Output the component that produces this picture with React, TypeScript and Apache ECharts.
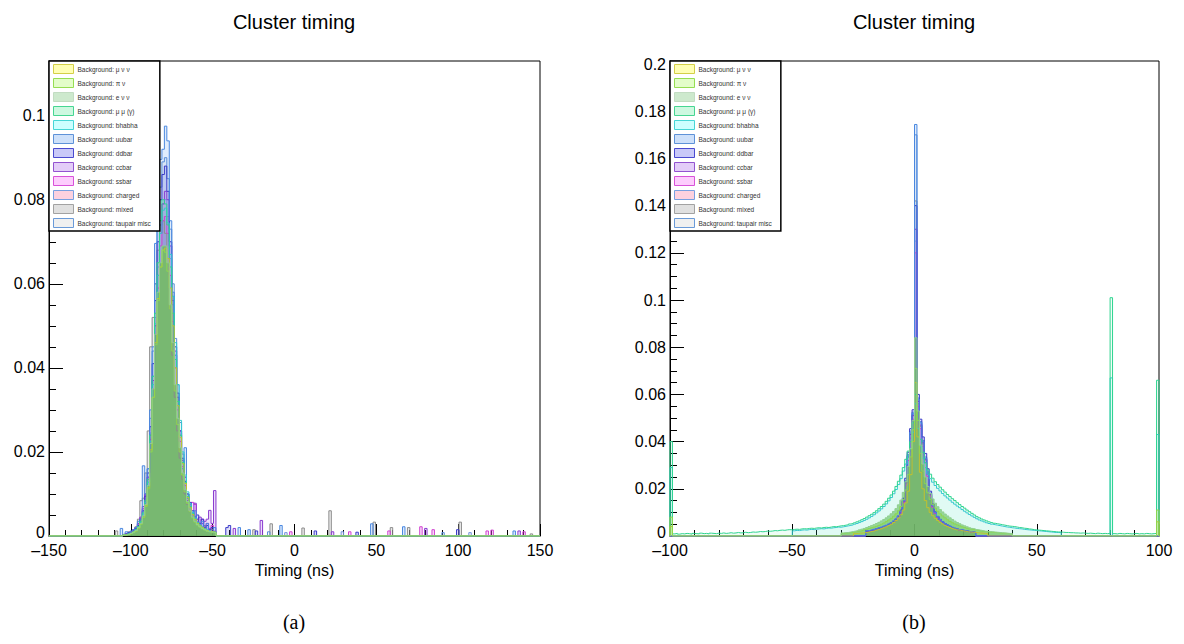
import React, { useEffect, useRef } from "react";
import * as echarts from "echarts";

// ---------------- names ----------------
const SERIES_NAMES = [
  "Background: μ ν ν",
  "Background: π ν",
  "Background: e ν ν",
  "Background: μ μ (γ)",
  "Background: bhabha",
  "Background: uubar",
  "Background: ddbar",
  "Background: ccbar",
  "Background: ssbar",
  "Background: charged",
  "Background: mixed",
  "Background: taupair misc",
];

const X_TICKS_LEFT = [-150, 150, 50];
const X_TICKS_RIGHT = [-100, 100, 50];

// ---------------- left panel (bins of 1.5 ns) ----------------
const LEFT_BIN = 1.5;
const LEFT_CORE_START = -105;
const leftMuNuNu = [0.0002,0.0003,0.0004,0.0006,0.0009,0.0012,0.0019,0.0029,0.0045,0.0072,0.0115,0.0205,0.0330,0.0460,0.0565,0.0640,0.0680,0.0685,0.0660,0.0590,0.0500,0.0400,0.0310,0.0235,0.0172,0.0125,0.0092,0.0068,0.0051,0.0039,0.0030,0.0024,0.0020,0.0016,0.0013,0.0011,0.0010,0.0009];
const leftPiNu = [0.0002,0.0002,0.0004,0.0005,0.0008,0.0012,0.0018,0.0028,0.0044,0.0070,0.0112,0.0200,0.0330,0.0455,0.0560,0.0640,0.0680,0.0675,0.0630,0.0540,0.0440,0.0345,0.0265,0.0200,0.0145,0.0105,0.0078,0.0058,0.0043,0.0033,0.0026,0.0021,0.0017,0.0014,0.0011,0.0010,0.0008,0.0007];
const leftENuNu = [0.0002,0.0003,0.0004,0.0006,0.0009,0.0013,0.0020,0.0030,0.0048,0.0075,0.0120,0.0220,0.0350,0.0480,0.0580,0.0650,0.0690,0.0690,0.0650,0.0550,0.0460,0.0360,0.0280,0.0210,0.0150,0.0110,0.0082,0.0060,0.0045,0.0035,0.0027,0.0022,0.0018,0.0015,0.0012,0.0010,0.0009,0.0008];
const leftMuMuGamma = [0.0002,0.0003,0.0005,0.0007,0.0010,0.0015,0.0023,0.0035,0.0055,0.0085,0.0135,0.0240,0.0380,0.0530,0.0650,0.0750,0.0800,0.0790,0.0740,0.0640,0.0530,0.0420,0.0320,0.0240,0.0175,0.0128,0.0094,0.0070,0.0053,0.0040,0.0031,0.0025,0.0020,0.0016,0.0013,0.0011,0.0010,0.0009];
const leftBhabha = [0.0002,0.0003,0.0004,0.0006,0.0009,0.0014,0.0021,0.0033,0.0052,0.0080,0.0128,0.0225,0.0360,0.0505,0.0620,0.0720,0.0775,0.0780,0.0745,0.0670,0.0570,0.0460,0.0360,0.0275,0.0200,0.0145,0.0105,0.0077,0.0057,0.0043,0.0033,0.0026,0.0021,0.0017,0.0014,0.0012,0.0010,0.0009];
const leftUubar = [0.0004,0.0010,0.0006,0.0012,0.0015,0.0020,0.0035,0.0040,0.0167,0.0100,0.0160,0.0300,0.0450,0.0696,0.0826,0.0896,0.0920,0.0975,0.0940,0.0750,0.0580,0.0430,0.0320,0.0240,0.0160,0.0210,0.0090,0.0070,0.0045,0.0060,0.0030,0.0025,0.0035,0.0015,0.0030,0.0012,0.0010,0.0020];
const leftDdbar = [0.0003,0.0005,0.0008,0.0006,0.0012,0.0018,0.0025,0.0040,0.0060,0.0095,0.0150,0.0260,0.0410,0.0560,0.0700,0.0800,0.0860,0.0880,0.0820,0.0700,0.0570,0.0450,0.0340,0.0250,0.0185,0.0130,0.0100,0.0080,0.0060,0.0045,0.0050,0.0030,0.0040,0.0020,0.0025,0.0015,0.0020,0.0010];
const leftCcbar = [0.0003,0.0004,0.0007,0.0010,0.0015,0.0020,0.0030,0.0045,0.0070,0.0100,0.0140,0.0240,0.0370,0.0500,0.0620,0.0720,0.0790,0.0820,0.0800,0.0690,0.0560,0.0440,0.0330,0.0250,0.0180,0.0140,0.0085,0.0060,0.0050,0.0078,0.0040,0.0045,0.0030,0.0035,0.0040,0.0061,0.0030,0.0108];
const leftSsbar = [0.0003,0.0006,0.0004,0.0009,0.0014,0.0018,0.0028,0.0042,0.0065,0.0095,0.0135,0.0230,0.0350,0.0480,0.0590,0.0690,0.0750,0.0760,0.0720,0.0620,0.0510,0.0400,0.0300,0.0225,0.0165,0.0120,0.0090,0.0068,0.0080,0.0075,0.0035,0.0028,0.0040,0.0022,0.0030,0.0018,0.0025,0.0012];
const leftCharged = [0.0002,0.0004,0.0005,0.0008,0.0012,0.0016,0.0025,0.0038,0.0058,0.0090,0.0140,0.0245,0.0380,0.0520,0.0640,0.0740,0.0790,0.0800,0.0760,0.0660,0.0550,0.0430,0.0330,0.0245,0.0180,0.0130,0.0095,0.0072,0.0055,0.0042,0.0033,0.0027,0.0022,0.0018,0.0015,0.0012,0.0010,0.0009];
const leftMixed = [0.0003,0.0005,0.0010,0.0008,0.0015,0.0022,0.0040,0.0084,0.0090,0.0150,0.0250,0.0450,0.0520,0.0600,0.0680,0.0740,0.0750,0.0720,0.0650,0.0540,0.0430,0.0330,0.0250,0.0185,0.0135,0.0100,0.0075,0.0058,0.0045,0.0035,0.0040,0.0022,0.0018,0.0025,0.0013,0.0011,0.0015,0.0008];
const leftTaupair = [0.0002,0.0004,0.0006,0.0009,0.0013,0.0019,0.0028,0.0042,0.0065,0.0100,0.0160,0.0280,0.0440,0.0600,0.0730,0.0830,0.0890,0.0900,0.0850,0.0730,0.0600,0.0470,0.0360,0.0270,0.0195,0.0140,0.0100,0.0075,0.0056,0.0042,0.0033,0.0026,0.0021,0.0017,0.0014,0.0011,0.0010,0.0008];

// isolated tail bins: [left bin edge (ns), value]
const leftTailUubar = [[-106.5, 0.0018], [-34.5, 0.002], [-28.5, 0.0015], [-9, 0.0025], [46.5, 0.0029], [66, 0.0022], [133.5, 0.0012]];
const leftTailDdbar = [[-42, 0.002], [-40.5, 0.0025], [-24, 0.0012], [12, 0.0012], [37.5, 0.0009], [99, 0.0015]];
const leftTailCcbar = [[-37.5, 0.0018], [-21, 0.0037], [22.5, 0.001], [79.5, 0.0018], [136.5, 0.0012]];
const leftTailSsbar = [[-3, 0.001], [33, 0.001], [57, 0.0012], [76.5, 0.0022], [84, 0.0015], [117, 0.0012], [120, 0.0014], [139.5, 0.001]];
const leftTailMixed = [[-109.5, 0.0012], [-25.5, 0.0015], [-15, 0.0029], [4.5, 0.0019], [21, 0.006], [48, 0.0033], [58.5, 0.002], [69, 0.002], [100.5, 0.0033], [144, 0.0005]];
const leftTailTaupair = [[-16.5, 0.001], [90, 0.0008]];
const leftTailCharged = [[-6, 0.0008], [28.5, 0.001], [106.5, 0.0008]];

// ---------------- right panel (bins of 1 ns) ----------------
const RIGHT_BIN = 1;
const rightMuMuGammaStart = -100;
const rightMuMuGamma = [
  0.0400,0.0009,0.0011,0.0008,0.0010,0.0009,0.0011,0.0010,0.0008,0.0011,
  0.0010,0.0009,0.0012,0.0010,0.0011,0.0009,0.0012,0.0011,0.0010,0.0012,
  0.0011,0.0013,0.0011,0.0012,0.0014,0.0012,0.0013,0.0015,0.0013,0.0014,
  0.0016,0.0014,0.0015,0.0017,0.0016,0.0017,0.0019,0.0018,0.0019,0.0021,
  0.0020,0.0021,0.0023,0.0022,0.0024,0.0025,0.0024,0.0026,0.0027,0.0026,
  0.0028,0.0029,0.0028,0.0030,0.0031,0.0030,0.0032,0.0033,0.0032,0.0034,
  0.0035,0.0034,0.0036,0.0037,0.0036,0.0038,0.0040,0.0039,0.0041,0.0043,
  0.0044,0.0046,0.0048,0.0051,0.0053,0.0056,0.0060,0.0064,0.0069,0.0074,
  0.0080,0.0086,0.0092,0.0099,0.0107,0.0116,0.0125,0.0135,0.0147,0.0160,
  0.0174,0.0190,0.0210,0.0232,0.0258,0.0290,0.0325,0.0360,0.0400,0.0480,
  0.0600,0.0490,0.0410,0.0355,0.0310,0.0280,0.0262,0.0245,0.0230,0.0218,
  0.0207,0.0196,0.0186,0.0176,0.0167,0.0158,0.0150,0.0141,0.0133,0.0125,
  0.0118,0.0110,0.0103,0.0096,0.0089,0.0082,0.0077,0.0072,0.0068,0.0064,
  0.0060,0.0057,0.0054,0.0052,0.0050,0.0048,0.0046,0.0044,0.0042,0.0041,
  0.0040,0.0038,0.0036,0.0035,0.0033,0.0032,0.0030,0.0029,0.0027,0.0026,
  0.0025,0.0024,0.0023,0.0022,0.0021,0.0020,0.0019,0.0018,0.0017,0.0017,
  0.0016,0.0015,0.0015,0.0014,0.0014,0.0013,0.0013,0.0012,0.0013,0.0012,
  0.0011,0.0012,0.0011,0.0010,0.0012,0.0011,0.0010,0.0011,0.0010,0.0011,
  0.1010,0.0010,0.0009,0.0011,0.0010,0.0009,0.0011,0.0010,0.0009,0.0010,
  0.0011,0.0009,0.0010,0.0009,0.0011,0.0010,0.0009,0.0010,0.0011,0.0660,
];
const rightBhabhaStart = -50;
const rightBhabha = [
  0.0022,0.0024,0.0023,0.0025,0.0026,0.0025,0.0027,0.0028,0.0027,0.0029,
  0.0030,0.0031,0.0030,0.0032,0.0034,0.0033,0.0035,0.0036,0.0038,0.0037,
  0.0039,0.0041,0.0043,0.0045,0.0047,0.0050,0.0053,0.0057,0.0061,0.0066,
  0.0071,0.0077,0.0083,0.0090,0.0098,0.0106,0.0115,0.0125,0.0136,0.0149,
  0.0163,0.0179,0.0197,0.0218,0.0243,0.0275,0.0305,0.0335,0.0370,0.0440,
  0.0560,0.0455,0.0380,0.0330,0.0290,0.0262,0.0243,0.0228,0.0214,0.0202,
  0.0191,0.0180,0.0170,0.0161,0.0152,0.0143,0.0135,0.0127,0.0120,0.0112,
  0.0105,0.0098,0.0091,0.0085,0.0079,0.0073,0.0068,0.0064,0.0060,0.0056,
  0.0053,0.0050,0.0048,0.0046,0.0044,0.0042,0.0040,0.0038,0.0037,0.0035,
  0.0034,0.0032,0.0031,0.0030,0.0028,0.0027,0.0026,0.0025,0.0024,0.0023,
  0.0022,0.0021,0.0020,0.0019,0.0018,0.0017,0.0016,0.0015,0.0015,0.0014,
];
const rightBhabhaExtra = [[-100, 0.029], [80, 0.067], [99, 0.043]];

const rightGreenStart = -30;
const rightENuNu = [
  0.0013,0.0014,0.0015,0.0017,0.0019,0.0021,0.0023,0.0026,0.0029,0.0032,
  0.0036,0.0040,0.0044,0.0048,0.0053,0.0058,0.0064,0.0070,0.0077,0.0085,
  0.0094,0.0104,0.0116,0.0132,0.0152,0.0185,0.0230,0.0295,0.0370,0.0490,
  0.0840,0.0530,0.0385,0.0305,0.0250,0.0210,0.0180,0.0157,0.0139,0.0124,
  0.0112,0.0102,0.0093,0.0085,0.0077,0.0070,0.0063,0.0057,0.0052,0.0047,
  0.0043,0.0039,0.0035,0.0032,0.0030,0.0027,0.0025,0.0023,0.0021,0.0020,
  0.0019,0.0018,0.0017,0.0016,0.0015,0.0014,0.0013,0.0012,0.0011,0.0010,
];
const rightPiNu = [
  0.0011,0.0012,0.0013,0.0014,0.0015,0.0017,0.0019,0.0021,0.0023,0.0026,
  0.0029,0.0032,0.0035,0.0038,0.0041,0.0045,0.0050,0.0055,0.0061,0.0068,
  0.0075,0.0084,0.0094,0.0107,0.0125,0.0155,0.0195,0.0260,0.0335,0.0450,
  0.0710,0.0490,0.0350,0.0275,0.0222,0.0183,0.0155,0.0134,0.0118,0.0105,
  0.0094,0.0085,0.0077,0.0069,0.0062,0.0056,0.0051,0.0047,0.0043,0.0039,
  0.0036,0.0033,0.0030,0.0028,0.0026,0.0024,0.0022,0.0020,0.0019,0.0018,
  0.0017,0.0016,0.0015,0.0014,0.0013,0.0012,0.0012,0.0011,0.0010,0.0010,
];
const rightPiNuExtra = [[-100, 0.008], [99, 0.011]];
const rightMuNuNuStart = -25;
const rightMuNuNu = [
  0.0010,0.0011,0.0012,0.0013,0.0014,0.0016,0.0018,0.0020,0.0022,0.0025,
  0.0028,0.0031,0.0035,0.0039,0.0044,0.0050,0.0057,0.0066,0.0076,0.0090,
  0.0110,0.0140,0.0190,0.0260,0.0400,
  0.0650,0.0420,0.0270,0.0200,0.0150,0.0120,0.0100,0.0086,0.0075,0.0066,
  0.0058,0.0051,0.0045,0.0040,0.0036,0.0032,0.0029,0.0026,0.0024,0.0022,
  0.0020,0.0018,0.0017,0.0016,0.0015,0.0014,0.0013,0.0012,0.0011,0.0010,
];
const rightMuNuNuExtra = [[-100, 0.004], [99, 0.006]];

const rightQuarkStart = -20;
const rightUubar = [0.0022,0.0024,0.0026,0.0028,0.0031,0.0034,0.0037,0.0041,0.0045,0.0050,0.0056,0.0063,0.0072,0.0085,0.0105,0.0150,0.0230,0.0340,0.0440,0.0520,0.1744,0.0580,0.0480,0.0400,0.0330,0.0270,0.0180,0.0130,0.0100,0.0082,0.0070,0.0060,0.0052,0.0046,0.0041,0.0037,0.0033,0.0030,0.0027,0.0025,0.0023,0.0021,0.0019,0.0018,0.0016];
const rightDdbar = [0.0021,0.0023,0.0025,0.0027,0.0030,0.0033,0.0036,0.0040,0.0044,0.0049,0.0055,0.0062,0.0071,0.0084,0.0110,0.0160,0.0245,0.0355,0.0455,0.0535,0.1400,0.0600,0.0495,0.0420,0.0350,0.0285,0.0190,0.0135,0.0102,0.0083,0.0070,0.0060,0.0052,0.0046,0.0041,0.0036,0.0032,0.0029,0.0026,0.0024,0.0022,0.0020,0.0018,0.0017,0.0015];
const rightCcbar = [0.0020,0.0022,0.0024,0.0026,0.0029,0.0032,0.0035,0.0039,0.0043,0.0048,0.0054,0.0061,0.0070,0.0082,0.0102,0.0145,0.0225,0.0335,0.0430,0.0510,0.1300,0.0570,0.0470,0.0395,0.0325,0.0262,0.0175,0.0127,0.0098,0.0080,0.0068,0.0058,0.0051,0.0045,0.0040,0.0036,0.0032,0.0029,0.0026,0.0024,0.0022,0.0020,0.0018,0.0017,0.0015];
const rightSsbar = [0.0019,0.0021,0.0023,0.0025,0.0028,0.0031,0.0034,0.0038,0.0042,0.0047,0.0053,0.0060,0.0068,0.0080,0.0098,0.0140,0.0215,0.0320,0.0415,0.0495,0.1200,0.0550,0.0455,0.0380,0.0312,0.0252,0.0168,0.0122,0.0095,0.0078,0.0066,0.0057,0.0050,0.0044,0.0039,0.0035,0.0031,0.0028,0.0025,0.0023,0.0021,0.0019,0.0017,0.0016,0.0015];
const rightCharged = [0.0020,0.0022,0.0024,0.0027,0.0030,0.0032,0.0036,0.0040,0.0044,0.0049,0.0055,0.0062,0.0070,0.0083,0.0103,0.0148,0.0228,0.0338,0.0435,0.0515,0.1250,0.0575,0.0475,0.0398,0.0328,0.0265,0.0178,0.0128,0.0099,0.0081,0.0069,0.0059,0.0051,0.0045,0.0040,0.0036,0.0032,0.0029,0.0026,0.0024,0.0022,0.0020,0.0018,0.0017,0.0015];
const rightMixed = [0.0020,0.0022,0.0024,0.0026,0.0029,0.0032,0.0035,0.0039,0.0043,0.0048,0.0054,0.0061,0.0070,0.0082,0.0102,0.0146,0.0226,0.0336,0.0432,0.0512,0.1420,0.0560,0.0465,0.0390,0.0322,0.0260,0.0174,0.0126,0.0097,0.0079,0.0067,0.0058,0.0050,0.0044,0.0039,0.0035,0.0031,0.0028,0.0025,0.0023,0.0021,0.0019,0.0018,0.0016,0.0015];
const rightTaupair = [0.0022,0.0024,0.0026,0.0029,0.0031,0.0034,0.0038,0.0042,0.0046,0.0051,0.0057,0.0064,0.0073,0.0086,0.0107,0.0153,0.0234,0.0345,0.0445,0.0525,0.1700,0.0585,0.0485,0.0405,0.0335,0.0272,0.0182,0.0131,0.0101,0.0083,0.0071,0.0061,0.0053,0.0047,0.0042,0.0037,0.0033,0.0030,0.0027,0.0025,0.0023,0.0021,0.0019,0.0018,0.0016];

// ---------------- styles ----------------
// [line colour, fill colour in plot, legend swatch fill, legend swatch border]
const STYLES: Record<string, [string, string, string, string]> = {
  "Background: μ ν ν": ["#c2c22e", "rgba(250,250,90,0.30)", "#ffffb4", "#d4cf48"],
  "Background: π ν": ["#8ed64e", "rgba(140,225,60,0.32)", "#e3fdc9", "#96de52"],
  "Background: e ν ν": ["#8fcf8f", "rgba(80,180,70,0.75)", "#cde9cd", "#c2dcc2"],
  "Background: μ μ (γ)": ["#2fd590", "rgba(60,220,150,0.12)", "#cdf8e0", "#46d692"],
  "Background: bhabha": ["#34c9cf", "rgba(60,230,230,0.12)", "#ccffff", "#46d6d6"],
  "Background: uubar": ["#4a88e0", "rgba(80,150,240,0.25)", "#cde0fa", "#5e92d8"],
  "Background: ddbar": ["#3a3ac8", "rgba(60,60,220,0.25)", "#c9c9f8", "#4a4ad0"],
  "Background: ccbar": ["#8a3ad0", "rgba(150,60,220,0.25)", "#e3cdf8", "#9353d0"],
  "Background: ssbar": ["#d040d0", "rgba(240,80,240,0.25)", "#fdcdfd", "#d952d9"],
  "Background: charged": ["#6f95e0", "rgba(250,130,170,0.25)", "#fdd1df", "#78a0e0"],
  "Background: mixed": ["#8c8c8c", "rgba(150,150,150,0.25)", "#e0e0e0", "#a2a2a2"],
  "Background: taupair misc": ["#5a8ed8", "rgba(210,210,210,0.25)", "#f0f0f0", "#6a9ad8"],
};

// draw order, bottom first
const DRAW_ORDER = [10, 11, 9, 8, 7, 6, 5, 4, 3, 0, 1, 2];

type Bin = [number, number];

function coreBins(start: number, width: number, values: number[]): Bin[] {
  return values.map((v, i) => [start + i * width, v] as Bin);
}

function stepPoints(bins: Bin[], width: number, xMin: number, xMax: number): number[][] {
  const map = new Map<number, number>();
  bins.forEach(([x, v]) => map.set(Math.round(x * 1000) / 1000, v));
  const sorted = Array.from(map.entries()).sort((a, b) => a[0] - b[0]);
  const pts: number[][] = [[xMin, 0]];
  let prevEnd: number | null = null;
  for (const [x0, v] of sorted) {
    if (prevEnd === null || Math.abs(x0 - prevEnd) > 1e-6) {
      if (prevEnd !== null) pts.push([prevEnd, 0]);
      pts.push([x0, 0]);
    }
    pts.push([x0, v]);
    prevEnd = x0 + width;
  }
  if (prevEnd !== null) pts.push([prevEnd, 0]);
  pts.push([xMax, 0]);
  return pts;
}

const LEFT_BINS: Bin[][] = [
  coreBins(LEFT_CORE_START, LEFT_BIN, leftMuNuNu),
  coreBins(LEFT_CORE_START, LEFT_BIN, leftPiNu),
  coreBins(LEFT_CORE_START, LEFT_BIN, leftENuNu),
  coreBins(LEFT_CORE_START, LEFT_BIN, leftMuMuGamma),
  coreBins(LEFT_CORE_START, LEFT_BIN, leftBhabha),
  [...coreBins(LEFT_CORE_START, LEFT_BIN, leftUubar), ...(leftTailUubar as Bin[])],
  [...coreBins(LEFT_CORE_START, LEFT_BIN, leftDdbar), ...(leftTailDdbar as Bin[])],
  [...coreBins(LEFT_CORE_START, LEFT_BIN, leftCcbar), ...(leftTailCcbar as Bin[])],
  [...coreBins(LEFT_CORE_START, LEFT_BIN, leftSsbar), ...(leftTailSsbar as Bin[])],
  [...coreBins(LEFT_CORE_START, LEFT_BIN, leftCharged), ...(leftTailCharged as Bin[])],
  [...coreBins(LEFT_CORE_START, LEFT_BIN, leftMixed), ...(leftTailMixed as Bin[])],
  [...coreBins(LEFT_CORE_START, LEFT_BIN, leftTaupair), ...(leftTailTaupair as Bin[])],
];

const RIGHT_BINS: Bin[][] = [
  [...coreBins(rightMuNuNuStart, RIGHT_BIN, rightMuNuNu), ...(rightMuNuNuExtra as Bin[])],
  [...coreBins(rightGreenStart, RIGHT_BIN, rightPiNu), ...(rightPiNuExtra as Bin[])],
  coreBins(rightGreenStart, RIGHT_BIN, rightENuNu),
  coreBins(rightMuMuGammaStart, RIGHT_BIN, rightMuMuGamma),
  [...coreBins(rightBhabhaStart, RIGHT_BIN, rightBhabha), ...(rightBhabhaExtra as Bin[])],
  coreBins(rightQuarkStart, RIGHT_BIN, rightUubar),
  coreBins(rightQuarkStart, RIGHT_BIN, rightDdbar),
  coreBins(rightQuarkStart, RIGHT_BIN, rightCcbar),
  coreBins(rightQuarkStart, RIGHT_BIN, rightSsbar),
  coreBins(rightQuarkStart, RIGHT_BIN, rightCharged),
  coreBins(rightQuarkStart, RIGHT_BIN, rightMixed),
  coreBins(rightQuarkStart, RIGHT_BIN, rightTaupair),
];

const FONT = "Liberation Sans, Arial, Helvetica, sans-serif";

function xLabel(v: number) {
  return v < 0 ? "\u2013" + Math.abs(v) : String(v);
}

function yLabel(v: number) {
  const r = Math.round(v * 1000) / 1000;
  return r === 0 ? "{z|0}" : String(r);
}

function buildSeries(binsList: Bin[][], width: number, xMin: number, xMax: number, axisIndex: number) {
  return DRAW_ORDER.map((i) => {
    const name = SERIES_NAMES[i];
    const st = STYLES[name];
    return {
      type: "line",
      name,
      xAxisIndex: axisIndex,
      yAxisIndex: axisIndex,
      data: stepPoints(binsList[i], width, xMin, xMax),
      step: "end",
      symbol: "none",
      showSymbol: false,
      silent: true,
      clip: true,
      lineStyle: { color: st[0], width: 1 },
      itemStyle: { color: st[0] },
      areaStyle: { color: st[1], origin: "start" },
    };
  });
}

function legendFor(left: number) {
  return {
    orient: "vertical",
    left,
    top: 61,
    icon: "rect",
    itemWidth: 20,
    itemHeight: 9,
    itemGap: 4,
    padding: [3, 9, 3, 4],
    backgroundColor: "#ffffff",
    borderColor: "#000000",
    borderWidth: 1.5,
    selectedMode: false,
    textStyle: { fontSize: 6.5, color: "#333333", fontFamily: FONT, padding: [0, 0, 0, -1] },
    data: SERIES_NAMES.map((n) => ({
      name: n,
      itemStyle: { color: STYLES[n][2], borderColor: STYLES[n][3], borderWidth: 1 },
    })),
  };
}

function xAxisFor(gridIndex: number, ticks: number[]) {
  return {
    type: "value",
    gridIndex,
    min: ticks[0],
    max: ticks[1],
    interval: ticks[2],
    name: "Timing (ns)",
    nameLocation: "middle",
    nameGap: 23,
    nameTextStyle: { fontSize: 16, color: "#000", fontFamily: FONT },
    axisLine: { show: true, onZero: false, lineStyle: { color: "#000", width: 1 } },
    axisTick: { show: true, inside: true, length: 12, lineStyle: { color: "#000", width: 1 } },
    minorTick: { show: true, splitNumber: 5, length: 6, lineStyle: { color: "#000", width: 1 } },
    axisLabel: { fontSize: 16, color: "#000", fontFamily: FONT, margin: 7, lineHeight: 14, formatter: xLabel },
    splitLine: { show: false },
  };
}

function yAxisFor(gridIndex: number, max: number) {
  return {
    type: "value",
    gridIndex,
    min: 0,
    max,
    interval: 0.02,
    axisLine: { show: true, onZero: false, lineStyle: { color: "#000", width: 1 } },
    axisTick: { show: true, inside: true, length: 14, lineStyle: { color: "#000", width: 1 } },
    minorTick: { show: true, splitNumber: 4, length: 7, lineStyle: { color: "#000", width: 1 } },
    axisLabel: {
      fontSize: 16,
      color: "#000",
      fontFamily: FONT,
      margin: 4,
      lineHeight: 11,
      showMaxLabel: false,
      formatter: yLabel,
      rich: { z: { fontSize: 16, fontFamily: FONT, color: "#000", lineHeight: 11, padding: [0, 0, 8, 0] } },
    },
    splitLine: { show: false },
  };
}

const option = {
  animation: false,
  backgroundColor: "#ffffff",
  grid: [
    { left: 49, top: 61, width: 491, height: 475, show: true, borderColor: "#000", borderWidth: 1, backgroundColor: "transparent" },
    { left: 670, top: 61, width: 489, height: 475, show: true, borderColor: "#000", borderWidth: 1, backgroundColor: "transparent" },
  ],
  xAxis: [xAxisFor(0, X_TICKS_LEFT), xAxisFor(1, X_TICKS_RIGHT)],
  yAxis: [yAxisFor(0, 0.113), yAxisFor(1, 0.2013)],
  legend: [legendFor(49), legendFor(670)],
  graphic: [
    { type: "text", x: 294, y: 22, style: { text: "Cluster timing", fontSize: 20, fontFamily: FONT, fill: "#000", textAlign: "center", textVerticalAlign: "middle" } },
    { type: "text", x: 914, y: 22, style: { text: "Cluster timing", fontSize: 20, fontFamily: FONT, fill: "#000", textAlign: "center", textVerticalAlign: "middle" } },
    { type: "text", x: 294, y: 622, style: { text: "(a)", fontSize: 20, fontFamily: "Liberation Serif, DejaVu Serif, serif", fill: "#000", textAlign: "center", textVerticalAlign: "middle" } },
    { type: "text", x: 914, y: 622, style: { text: "(b)", fontSize: 20, fontFamily: "Liberation Serif, DejaVu Serif, serif", fill: "#000", textAlign: "center", textVerticalAlign: "middle" } },
  ],
  series: [
    ...buildSeries(LEFT_BINS, LEFT_BIN, -150, 150, 0),
    ...buildSeries(RIGHT_BINS, RIGHT_BIN, -100, 100, 1),
  ],
};

export default function App() {
  const ref = useRef<HTMLDivElement>(null);
  useEffect(() => {
    if (!ref.current) return;
    const chart = echarts.init(ref.current, undefined, { renderer: "svg" });
    chart.setOption(option as any);
    return () => chart.dispose();
  }, []);
  return (
    <div
      ref={ref}
      style={{ position: "absolute", left: 0, top: 0, width: 1184, height: 644, background: "#ffffff" }}
    />
  );
}
